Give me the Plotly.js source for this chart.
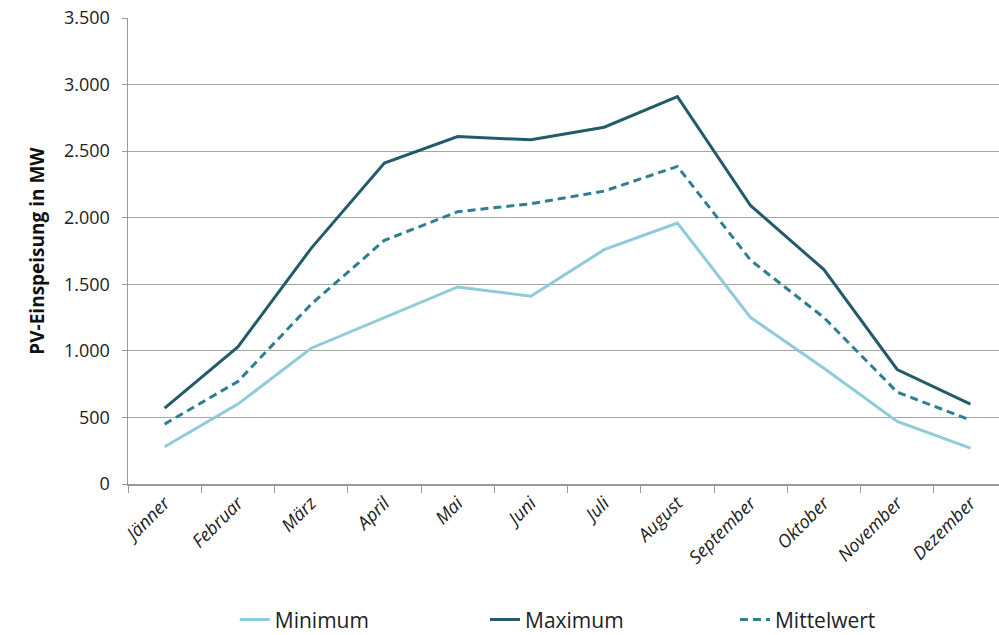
<!DOCTYPE html>
<html>
<head>
<meta charset="utf-8">
<script src="https://cdn.plot.ly/plotly-3.0.1.min.js"></script>
<style>html,body{margin:0;padding:0;background:#fff;}#chart{width:999px;height:635px;}</style>
</head>
<body>
<div id="chart"></div>
<script>
const months = ["Jänner","Februar","März","April","Mai","Juni","Juli","August","September","Oktober","November","Dezember"];
const minimum = [280, 600, 1020, 1250, 1480, 1410, 1760, 1960, 1250, 870, 470, 270];
const maximum = [570, 1030, 1770, 2410, 2610, 2585, 2680, 2910, 2090, 1610, 860, 600];
const mittelwert = [450, 770, 1350, 1830, 2045, 2105, 2200, 2385, 1680, 1250, 690, 480];

const font = "Open Sans, Liberation Sans, sans-serif";
const traces = [
  {x: months, y: minimum, name: "Minimum", type: "scatter", mode: "lines", legend: "legend",
   line: {color: "#8fcbd9", width: 3}},
  {x: months, y: maximum, name: "Maximum", type: "scatter", mode: "lines", legend: "legend2",
   line: {color: "#235c68", width: 3}},
  {x: months, y: mittelwert, name: "Mittelwert", type: "scatter", mode: "lines", legend: "legend3",
   line: {color: "#2f7f92", width: 3, dash: "8px,5px"}}
];
function leg(x) {
  return {orientation: "h", xref: "container", yref: "container",
          x: x, xanchor: "left", y: 0.024, yanchor: "middle",
          font: {size: 21, color: "#222"}, bgcolor: "rgba(0,0,0,0)"};
}
const layout = {
  width: 999, height: 635,
  margin: {l: 128, r: 0, t: 18, b: 151},
  paper_bgcolor: "#fff", plot_bgcolor: "#fff",
  separators: ",.",
  font: {family: font, color: "#222", size: 16},
  showlegend: true,
  legend: leg(0.235), legend2: leg(0.4855), legend3: leg(0.7357),
  xaxis: {type: "category", range: [-0.5, 11.39], tickson: "boundaries", automargin: false,
          ticks: "outside", ticklen: 7, tickcolor: "#999", showline: true, linecolor: "#999", linewidth: 1.5,
          showgrid: false, tickangle: -45, tickfont: {size: 18, family: font, style: "italic", color: "#222"}},
  yaxis: {range: [0, 3500], dtick: 500, tickformat: ",.0f", ticks: "outside", ticklen: 5, tickcolor: "#999",
          showline: true, linecolor: "#999", linewidth: 1.5, gridcolor: "#a6a6a6", gridwidth: 1,
          zeroline: false, tickfont: {size: 18, color: "#222"}, ticklabelstandoff: 8, automargin: true,
          title: {text: "PV-Einspeisung in MW", standoff: 14,
                  font: {size: 19, family: font, weight: "bold", color: "#111"}}}
};
Plotly.newPlot("chart", traces, layout, {displayModeBar: false, staticPlot: true});
</script>
</body>
</html>
